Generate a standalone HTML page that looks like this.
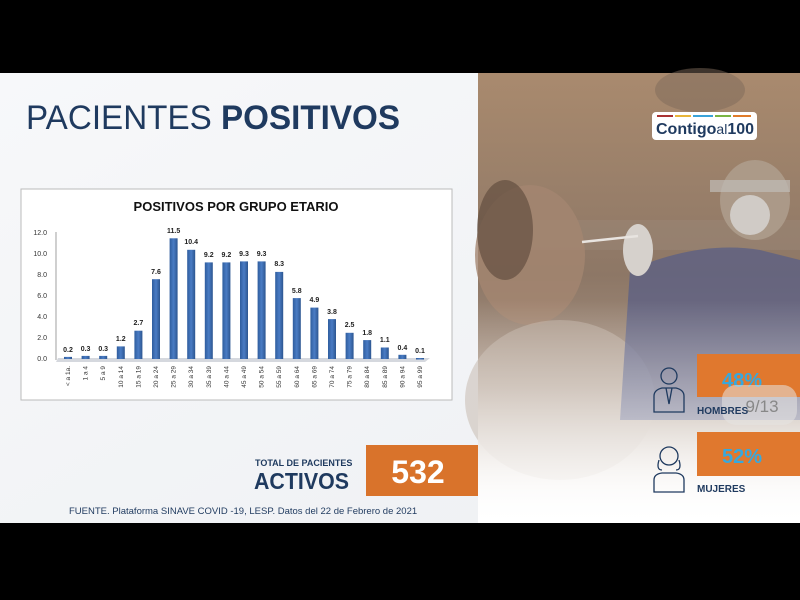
<!DOCTYPE html>
<html><head><meta charset="utf-8"><style>
html,body{margin:0;padding:0;background:#000;}
svg{display:block}
text{font-family:"Liberation Sans",sans-serif}
</style></head><body>
<svg width="800" height="600" viewBox="0 0 800 600" xmlns="http://www.w3.org/2000/svg">
<defs>
<linearGradient id="bg" x1="0" y1="0" x2="1" y2="1">
<stop offset="0" stop-color="#f7f8fa"/><stop offset="1" stop-color="#eef0f3"/></linearGradient>
<linearGradient id="ph" x1="0" y1="0" x2="0" y2="1">
<stop offset="0" stop-color="#a98a6e"/><stop offset="0.45" stop-color="#8d7766"/><stop offset="0.7" stop-color="#a89484"/><stop offset="0.92" stop-color="#f0ebe6"/><stop offset="1" stop-color="#ffffff"/></linearGradient>
<linearGradient id="fade" x1="0" y1="0" x2="0" y2="1">
<stop offset="0" stop-color="#fff" stop-opacity="0"/><stop offset="1" stop-color="#fff" stop-opacity="0.95"/></linearGradient>
<linearGradient id="bar" x1="0" y1="0" x2="1" y2="0">
<stop offset="0" stop-color="#2f5d9e"/><stop offset="0.5" stop-color="#4a7cc4"/><stop offset="1" stop-color="#2c5590"/></linearGradient>
</defs>
<rect x="0" y="73" width="800" height="450" fill="url(#bg)"/>
<!-- photo -->
<rect x="478" y="73" width="322" height="450" fill="url(#ph)"/>
<ellipse cx="700" cy="90" rx="45" ry="22" fill="#7d6a5a" opacity="0.5"/>
<rect x="478" y="220" width="322" height="30" fill="#9e8e80" opacity="0.3"/>
<ellipse cx="530" cy="255" rx="55" ry="70" fill="#a48670" opacity="0.8"/>
<ellipse cx="505" cy="230" rx="28" ry="50" fill="#5a4638" opacity="0.6"/>
<ellipse cx="560" cy="400" rx="95" ry="80" fill="#c4b6aa" opacity="0.5"/>
<path d="M630 270 Q700 240 760 250 L800 260 L800 420 L620 420 Z" fill="#5a5f86" opacity="0.75"/>
<ellipse cx="755" cy="200" rx="35" ry="40" fill="#b0a090" opacity="0.8"/>
<ellipse cx="750" cy="215" rx="20" ry="20" fill="#d0cbc6"/>
<rect x="710" y="180" width="80" height="12" fill="#c0bcb8" opacity="0.7"/>
<ellipse cx="638" cy="250" rx="15" ry="26" fill="#d6d1cc"/>
<line x1="582" y1="242" x2="638" y2="236" stroke="#e8e4e0" stroke-width="2.5"/>
<rect x="478" y="300" width="322" height="223" fill="url(#fade)"/>
<!-- logo -->
<rect x="652" y="112" width="105" height="28" rx="4" fill="#fff"/>
<rect x="657" y="115" width="16" height="2" fill="#a33"/><rect x="675" y="115" width="16" height="2" fill="#e8b53a"/><rect x="693" y="115" width="20" height="2" fill="#3ba3d8"/><rect x="715" y="115" width="16" height="2" fill="#7bb544"/><rect x="733" y="115" width="18" height="2" fill="#e07b2a"/>
<text x="656" y="134" font-size="16" font-weight="bold" fill="#1f3a5f">Contigo<tspan font-weight="normal" font-size="14">al</tspan>100</text>
<!-- gender boxes -->
<rect x="697" y="354" width="103" height="43" fill="#e0782e"/>
<text x="742" y="387" font-size="20" font-weight="bold" fill="#38a8dc" text-anchor="middle">48%</text>
<rect x="722" y="385" width="75" height="40" rx="14" fill="#e6e4e2" opacity="0.55"/>
<text x="762" y="412" font-size="17" fill="#888" text-anchor="middle">9/13</text>
<text x="697" y="414" font-size="10" font-weight="bold" fill="#1f3a5f">HOMBRES</text>
<rect x="697" y="432" width="103" height="44" fill="#e0782e"/>
<text x="742" y="463" font-size="20" font-weight="bold" fill="#38a8dc" text-anchor="middle">52%</text>
<text x="697" y="492" font-size="10" font-weight="bold" fill="#1f3a5f">MUJERES</text>
<g fill="none" stroke="#1f3a5f" stroke-width="1.3">
<circle cx="669" cy="376" r="8"/><path d="M654 412 v-16 q0-6 8-8 h14 q8 2 8 8 v16 z M666 388 l3 16 l3-16"/>
<circle cx="669" cy="456" r="9"/><path d="M654 492 v-12 q0-6 8-7 h14 q8 1 8 7 v12 z M659 460 q-3 10 3 10 M679 460 q3 10 -3 10"/>
</g>
<!-- title -->
<text x="26" y="129" font-size="34" fill="#1f3a5f" textLength="374" lengthAdjust="spacingAndGlyphs">PACIENTES <tspan font-weight="bold">POSITIVOS</tspan></text>
<!-- chart -->
<rect x="21" y="189" width="431" height="211" fill="#fff" stroke="#bbb" stroke-width="1"/>
<text x="236" y="211" font-size="13" font-weight="bold" fill="#111" text-anchor="middle">POSITIVOS POR GRUPO ETARIO</text>
<g font-size="7" fill="#333" text-anchor="end">
<text x="47" y="235">12.0</text><text x="47" y="256">10.0</text><text x="47" y="277">8.0</text><text x="47" y="298">6.0</text><text x="47" y="319">4.0</text><text x="47" y="340">2.0</text><text x="47" y="361">0.0</text>
</g>
<line x1="56" y1="232" x2="56" y2="360" stroke="#888" stroke-width="0.8"/>
<polygon points="58,358 430,358 425,362 56,362" fill="#d5d8de"/>
<g font-size="7" font-weight="bold" fill="#222" text-anchor="middle">
<rect x="64" y="356.9" width="8" height="2.1" fill="url(#bar)"/><text x="68" y="352">0.2</text>
<rect x="81.6" y="355.9" width="8" height="3.1" fill="url(#bar)"/><text x="85.6" y="351">0.3</text>
<rect x="99.2" y="355.9" width="8" height="3.1" fill="url(#bar)"/><text x="103.2" y="351">0.3</text>
<rect x="116.8" y="346.4" width="8" height="12.6" fill="url(#bar)"/><text x="120.8" y="341">1.2</text>
<rect x="134.4" y="330.7" width="8" height="28.3" fill="url(#bar)"/><text x="138.4" y="325">2.7</text>
<rect x="152" y="279.2" width="8" height="79.8" fill="url(#bar)"/><text x="156" y="274">7.6</text>
<rect x="169.6" y="238.3" width="8" height="120.7" fill="url(#bar)"/><text x="173.6" y="233">11.5</text>
<rect x="187.2" y="249.8" width="8" height="109.2" fill="url(#bar)"/><text x="191.2" y="244">10.4</text>
<rect x="204.8" y="262.4" width="8" height="96.6" fill="url(#bar)"/><text x="208.8" y="257">9.2</text>
<rect x="222.4" y="262.4" width="8" height="96.6" fill="url(#bar)"/><text x="226.4" y="257">9.2</text>
<rect x="240" y="261.4" width="8" height="97.6" fill="url(#bar)"/><text x="244" y="256">9.3</text>
<rect x="257.6" y="261.4" width="8" height="97.6" fill="url(#bar)"/><text x="261.6" y="256">9.3</text>
<rect x="275.2" y="271.9" width="8" height="87.1" fill="url(#bar)"/><text x="279.2" y="266">8.3</text>
<rect x="292.8" y="298.1" width="8" height="60.9" fill="url(#bar)"/><text x="296.8" y="293">5.8</text>
<rect x="310.4" y="307.6" width="8" height="51.4" fill="url(#bar)"/><text x="314.4" y="302">4.9</text>
<rect x="328" y="319.1" width="8" height="39.9" fill="url(#bar)"/><text x="332" y="314">3.8</text>
<rect x="345.6" y="332.8" width="8" height="26.2" fill="url(#bar)"/><text x="349.6" y="327">2.5</text>
<rect x="363.2" y="340.1" width="8" height="18.9" fill="url(#bar)"/><text x="367.2" y="335">1.8</text>
<rect x="380.8" y="347.5" width="8" height="11.5" fill="url(#bar)"/><text x="384.8" y="342">1.1</text>
<rect x="398.4" y="354.8" width="8" height="4.2" fill="url(#bar)"/><text x="402.4" y="350">0.4</text>
<rect x="416" y="358" width="8" height="1.5" fill="url(#bar)"/><text x="420" y="353">0.1</text>
</g>
<g font-size="6.5" fill="#333" text-anchor="end">
<text transform="translate(70,366) rotate(-90)">&lt; a 1a.</text>
<text transform="translate(87.6,366) rotate(-90)">1 a 4</text>
<text transform="translate(105.2,366) rotate(-90)">5 a 9</text>
<text transform="translate(122.8,366) rotate(-90)">10 a 14</text>
<text transform="translate(140.4,366) rotate(-90)">15 a 19</text>
<text transform="translate(158,366) rotate(-90)">20 a 24</text>
<text transform="translate(175.6,366) rotate(-90)">25 a 29</text>
<text transform="translate(193.2,366) rotate(-90)">30 a 34</text>
<text transform="translate(210.8,366) rotate(-90)">35 a 39</text>
<text transform="translate(228.4,366) rotate(-90)">40 a 44</text>
<text transform="translate(246,366) rotate(-90)">45 a 49</text>
<text transform="translate(263.6,366) rotate(-90)">50 a 54</text>
<text transform="translate(281.2,366) rotate(-90)">55 a 59</text>
<text transform="translate(298.8,366) rotate(-90)">60 a 64</text>
<text transform="translate(316.4,366) rotate(-90)">65 a 69</text>
<text transform="translate(334,366) rotate(-90)">70 a 74</text>
<text transform="translate(351.6,366) rotate(-90)">75 a 79</text>
<text transform="translate(369.2,366) rotate(-90)">80 a 84</text>
<text transform="translate(386.8,366) rotate(-90)">85 a 89</text>
<text transform="translate(404.4,366) rotate(-90)">90 a 94</text>
<text transform="translate(422,366) rotate(-90)">95 a 99</text>
</g>
<!-- totals -->
<text x="255" y="466" font-size="9" font-weight="bold" fill="#1f3a5f">TOTAL DE PACIENTES</text>
<text x="254" y="489" font-size="23" font-weight="bold" fill="#1f3a5f" textLength="95" lengthAdjust="spacingAndGlyphs">ACTIVOS</text>
<rect x="366" y="445" width="112" height="51" fill="#d9732b"/>
<text x="418" y="483" font-size="32" font-weight="bold" fill="#fff" text-anchor="middle">532</text>
<text x="69" y="514" font-size="9.5" fill="#1f3a5f">FUENTE. Plataforma SINAVE COVID -19, LESP. Datos del 22 de Febrero de 2021</text>
</svg>
</body></html>
